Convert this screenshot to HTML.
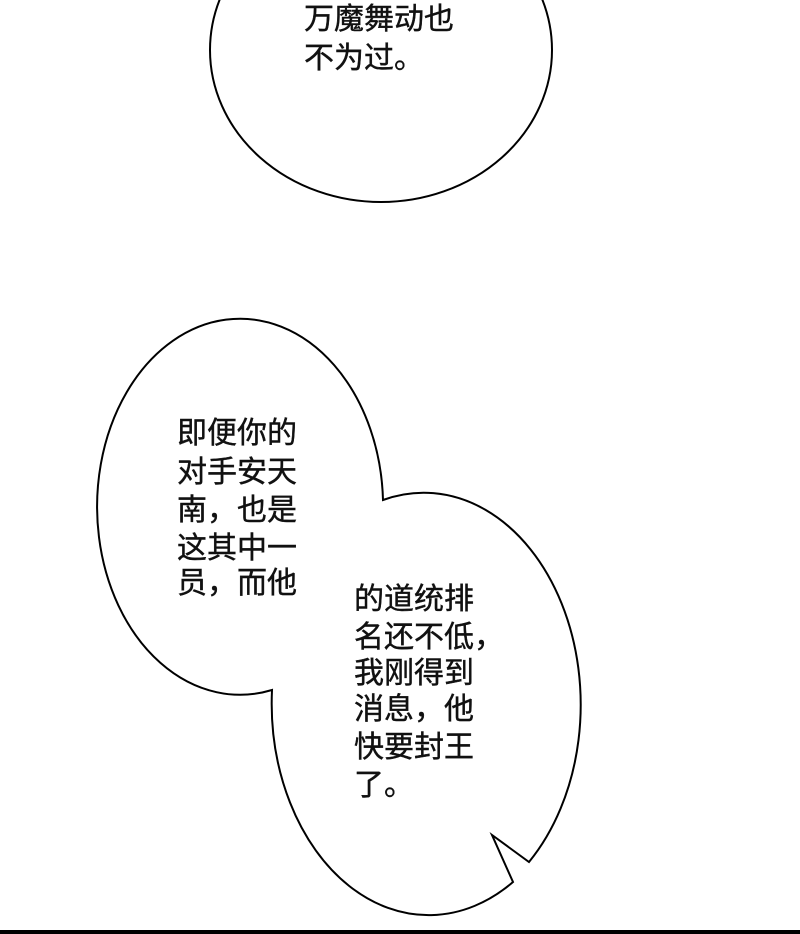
<!DOCTYPE html>
<html><head><meta charset="utf-8"><style>
body{margin:0;background:#fff;}
svg{display:block}
text{font-family:"Liberation Sans","Noto Sans CJK SC",sans-serif;font-size:30px;fill:#111;stroke:#111;stroke-width:0.4}
</style></head><body>
<svg width="800" height="934" viewBox="0 0 800 934">
<rect width="800" height="934" fill="#fff"/>
<ellipse cx="381" cy="50" rx="171" ry="152" fill="#fff" stroke="#000" stroke-width="2"/>
<text x="304" y="29">万魔舞动也</text>
<text x="304" y="68">不为过。</text>
<path d="M272,690 A143,188 0 1 1 383,500 A157,212 0 0 1 529,862 L492,835 L513,882 A157,212 0 0 1 272,690 Z" fill="#fff" stroke="#000" stroke-width="2"/>
<text x="177" y="443">即便你的</text>
<text x="177" y="482">对手安天</text>
<text x="177" y="520">南，也是</text>
<text x="177" y="558">这其中一</text>
<text x="177" y="593">员，而他</text>
<text x="354" y="609">的道统排</text>
<text x="354" y="647">名还不低，</text>
<text x="354" y="683">我刚得到</text>
<text x="354" y="719">消息，他</text>
<text x="354" y="757">快要封王</text>
<text x="354" y="795">了。</text>
<rect x="0" y="930" width="800" height="4" fill="#000"/>
</svg>
</body></html>
